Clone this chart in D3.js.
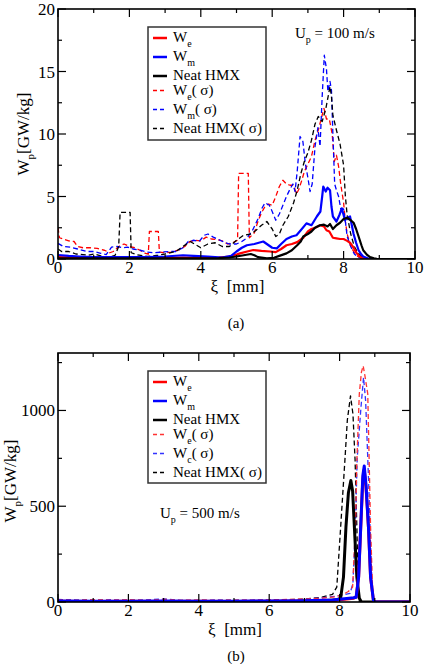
<!DOCTYPE html>
<html>
<head>
<meta charset="utf-8">
<script src="https://cdn.jsdelivr.net/npm/d3@7"></script>
<style>
  body { margin: 0; background: #fff; }
</style>
</head>
<body>
<div id="chart"></div>
<script>
// panel (a): U_p = 100 m/s, points are [xi (mm), W_p (GW/kg)]
const weA = [[0,0.15],[0.5,0.12],[1,0.1],[1.5,0.1],[2,0.12],[2.5,0.1],[3,0.1],[3.5,0.12],[4,0.1],[4.5,0.12],[4.8,0.2],[5.0,0.35],[5.1,0.45],[5.3,0.6],[5.47,0.72],[5.7,0.65],[5.94,0.6],[6.1,0.55],[6.25,0.8],[6.4,1.1],[6.55,1.2],[6.7,1.35],[6.87,1.7],[7.0,2.2],[7.1,2.4],[7.2,2.5],[7.34,2.7],[7.45,2.6],[7.52,2.3],[7.6,2.2],[7.7,1.7],[7.8,1.65],[7.9,1.6],[8.0,1.6],[8.1,1.45],[8.18,1.3],[8.28,0.9],[8.37,0.45],[8.45,0.2],[8.55,0.05],[8.7,0],[10,0]];
const wmA = [[0,0.32],[0.3,0.25],[0.6,0.2],[1,0.15],[1.5,0.15],[2,0.15],[2.5,0.15],[3,0.2],[3.5,0.3],[3.8,0.25],[4.2,0.2],[4.6,0.12],[4.85,0.25],[5.0,0.6],[5.15,0.9],[5.29,1.1],[5.5,1.2],[5.75,1.4],[5.9,1.1],[6.0,0.9],[6.13,0.85],[6.25,1.2],[6.4,1.6],[6.55,1.8],[6.68,1.9],[6.8,2.3],[6.96,2.85],[7.1,2.7],[7.25,3.4],[7.35,3.8],[7.4,5.0],[7.43,5.8],[7.5,5.4],[7.55,5.7],[7.62,5.5],[7.66,4.2],[7.7,3.4],[7.8,3.0],[7.88,3.5],[7.95,4.05],[8.04,3.1],[8.1,3.3],[8.18,3.4],[8.28,2.0],[8.35,1.3],[8.42,0.7],[8.5,0.35],[8.55,0.2],[8.7,0.02],[10,0]];
const hmxA = [[0,0.05],[1,0.05],[2,0.05],[3,0.05],[4,0.05],[4.5,0.08],[4.8,0.12],[5.0,0.2],[5.2,0.3],[5.4,0.4],[5.5,0.3],[5.6,0.15],[5.85,0.05],[6.05,0.1],[6.2,0.25],[6.4,0.45],[6.55,0.7],[6.7,1.1],[6.8,1.4],[6.87,1.8],[7.0,2.0],[7.1,2.2],[7.2,2.5],[7.34,2.7],[7.45,2.75],[7.55,2.6],[7.62,2.8],[7.7,2.4],[7.8,2.7],[7.9,2.9],[8.0,3.2],[8.1,3.3],[8.2,3.1],[8.28,2.9],[8.35,2.4],[8.42,1.8],[8.5,1.1],[8.55,0.7],[8.65,0.35],[8.74,0.15],[8.85,0.05],[8.93,0.02],[10,0]];
const weSigA = [[0,2.5],[0.04,1.7],[0.15,1.6],[0.3,1.45],[0.45,1.4],[0.55,1.0],[0.7,0.9],[0.9,0.9],[1.1,0.85],[1.3,0.7],[1.45,0.5],[1.55,0.6],[1.7,1.0],[1.85,1.2],[2.0,1.0],[2.15,0.9],[2.3,0.7],[2.45,0.45],[2.53,0.4],[2.56,2.2],[2.81,2.2],[2.84,0.55],[3.0,0.5],[3.2,0.55],[3.4,0.75],[3.55,1.0],[3.7,1.4],[3.85,1.5],[4.0,1.45],[4.15,1.75],[4.3,1.6],[4.45,1.55],[4.6,1.45],[4.75,1.2],[4.9,1.3],[5.03,1.5],[5.06,6.85],[5.33,6.85],[5.36,1.7],[5.5,2.1],[5.6,3.0],[5.7,3.7],[5.8,4.2],[5.9,4.4],[6.0,4.3],[6.1,5.0],[6.2,5.8],[6.3,6.3],[6.4,6.0],[6.5,5.9],[6.6,5.9],[6.68,5.2],[6.75,5.6],[6.83,6.3],[6.9,7.0],[7.0,7.6],[7.1,8.2],[7.2,9.5],[7.3,10.4],[7.38,11.3],[7.45,12.05],[7.52,11.2],[7.6,11.2],[7.68,10.0],[7.74,7.8],[7.8,8.3],[7.86,7.4],[7.92,6.0],[8.0,4.5],[8.05,3.0],[8.1,2.0],[8.2,1.0],[8.3,0.5],[8.4,0.2],[8.5,0.05],[8.7,0],[10,0]];
const wmSigA = [[0,1.25],[0.15,1.0],[0.35,0.95],[0.55,0.8],[0.8,0.6],[1.0,0.6],[1.2,0.45],[1.35,0.35],[1.5,0.95],[1.65,1.0],[1.8,0.9],[1.95,0.95],[2.1,0.8],[2.3,0.7],[2.5,0.55],[2.7,0.5],[2.9,0.55],[3.1,0.6],[3.3,0.6],[3.5,0.9],[3.65,1.4],[3.8,1.5],[3.95,1.4],[4.1,1.9],[4.2,2.0],[4.35,1.75],[4.5,1.55],[4.65,1.35],[4.8,1.2],[5.0,1.2],[5.15,1.4],[5.3,1.7],[5.45,2.3],[5.6,3.2],[5.72,4.1],[5.8,4.5],[5.92,4.3],[6.0,3.8],[6.1,3.1],[6.2,3.6],[6.3,4.3],[6.4,5.0],[6.5,5.6],[6.58,6.0],[6.64,5.4],[6.7,7.0],[6.78,9.8],[6.86,9.4],[6.93,7.6],[7.0,6.5],[7.06,5.4],[7.12,6.0],[7.2,9.0],[7.28,10.5],[7.34,9.0],[7.4,13.0],[7.46,16.3],[7.52,15.2],[7.56,13.4],[7.62,14.2],[7.66,13.5],[7.7,10.0],[7.75,6.0],[7.8,5.5],[7.86,5.0],[7.92,4.0],[8.0,4.0],[8.05,3.0],[8.1,1.8],[8.2,1.0],[8.3,0.4],[8.4,0.15],[8.5,0.05],[8.7,0],[10,0]];
const hmxSigA = [[0,0.8],[0.1,0.6],[0.3,0.6],[0.5,0.4],[0.7,0.35],[0.85,0.3],[1.0,0.4],[1.2,0.25],[1.4,0.1],[1.6,0.3],[1.7,1.0],[1.74,3.73],[2.02,3.73],[2.05,0.5],[2.2,0.35],[2.5,0.2],[2.8,0.3],[3.0,0.4],[3.3,0.6],[3.5,1.0],[3.7,1.4],[3.85,1.15],[4.0,0.9],[4.2,1.2],[4.4,1.3],[4.6,1.0],[4.8,1.0],[5.0,1.5],[5.2,1.9],[5.4,2.0],[5.55,2.3],[5.7,2.7],[5.85,3.0],[6.0,2.4],[6.1,1.8],[6.2,2.0],[6.3,2.7],[6.45,3.4],[6.6,4.5],[6.7,5.5],[6.8,6.8],[6.9,7.8],[7.0,8.5],[7.1,9.5],[7.2,10.8],[7.29,11.4],[7.4,11.0],[7.5,12.0],[7.62,13.8],[7.66,13.0],[7.7,11.5],[7.8,10.3],[7.9,9.2],[8.0,7.5],[8.05,5.0],[8.1,3.5],[8.2,2.0],[8.3,1.0],[8.4,0.5],[8.5,0.2],[8.7,0],[10,0]];

// panel (b): U_p = 500 m/s
const weB = [[0,4],[1,3],[2,4],[3,3],[4,4],[5,3],[6,4],[7,5],[7.8,8],[8.2,15],[8.4,20],[8.47,25],[8.54,130],[8.6,391],[8.66,640],[8.7,690],[8.75,600],[8.82,391],[8.88,130],[8.96,10],[9.0,0],[10,0]];
const wmB = [[0,5],[1,4],[2,4],[3,5],[4,4],[5,4],[6,5],[7,6],[7.8,10],[8.2,18],[8.4,22],[8.47,25],[8.54,130],[8.6,391],[8.66,660],[8.7,710],[8.75,610],[8.82,391],[8.88,130],[8.96,10],[9.0,0],[10,0]];
const hmxB = [[0,3],[1,3],[2,3],[3,3],[4,3],[5,3],[6,3],[7,4],[7.9,10],[8.03,20],[8.11,130],[8.18,391],[8.25,570],[8.32,634],[8.37,580],[8.42,391],[8.49,130],[8.56,20],[8.62,0],[10,0]];
const weSigB = [[0,10],[0.5,8],[1,12],[1.5,9],[2,11],[2.5,8],[3,14],[3.5,9],[4,10],[4.5,8],[5,10],[5.5,9],[6,11],[6.5,13],[7,15],[7.5,20],[7.9,28],[8.1,40],[8.25,55],[8.37,78],[8.45,391],[8.49,738],[8.56,1087],[8.62,1200],[8.67,1233],[8.72,1180],[8.8,1087],[8.84,738],[8.88,391],[8.94,50],[8.98,0],[10,0]];
const wmSigB = [[0,14],[0.5,10],[1,8],[1.5,12],[2,9],[2.5,11],[3,16],[3.5,9],[4,8],[4.5,11],[5,9],[5.5,10],[6,12],[6.5,10],[7,14],[7.5,22],[7.9,30],[8.1,38],[8.3,45],[8.38,100],[8.45,400],[8.5,750],[8.54,850],[8.6,1000],[8.68,1172],[8.74,1050],[8.78,850],[8.83,600],[8.88,300],[8.93,50],[8.97,0],[10,0]];
const hmxSigB = [[0,12],[0.5,8],[1,10],[1.5,6],[2,9],[2.5,7],[3,10],[3.5,6],[4,8],[4.5,7],[5,9],[5.5,6],[6,10],[6.5,12],[7,15],[7.5,25],[7.8,40],[7.92,78],[8.03,391],[8.15,738],[8.22,950],[8.31,1076],[8.38,980],[8.44,740],[8.49,390],[8.53,80],[8.56,0],[10,0]];

const xTicks = [0, 2, 4, 6, 8, 10];
const xMinor = [1, 3, 5, 7, 9];
const yTicksA = [0, 5, 10, 15, 20];
const yMinorA = [2.5, 7.5, 12.5, 17.5];
const yTicksB = [0, 500, 1000];
const yMinorB = [250, 750, 1250];

const legendA = [
  { main: 'W', sub: 'e', tail: '', color: '#ff0000', dash: false },
  { main: 'W', sub: 'm', tail: '', color: '#0000ff', dash: false },
  { main: 'Neat HMX', sub: '', tail: '', color: '#000', dash: false },
  { main: 'W', sub: 'e', tail: '( σ)', color: '#ff0000', dash: true },
  { main: 'W', sub: 'm', tail: '( σ)', color: '#0000ff', dash: true },
  { main: 'Neat HMX( σ)', sub: '', tail: '', color: '#000', dash: true }
];
const legendB = [
  { main: 'W', sub: 'e', tail: '', color: '#ff0000', dash: false },
  { main: 'W', sub: 'm', tail: '', color: '#0000ff', dash: false },
  { main: 'Neat HMX', sub: '', tail: '', color: '#000', dash: false },
  { main: 'W', sub: 'e', tail: '( σ)', color: '#ff3333', dash: true },
  { main: 'W', sub: 'c', tail: '( σ)', color: '#3333ff', dash: true },
  { main: 'Neat HMX( σ)', sub: '', tail: '', color: '#000', dash: true }
];

const FONT = '"Liberation Serif", "DejaVu Serif", "Times New Roman", serif';

const svg = d3.select('#chart').append('svg')
  .attr('width', 426)
  .attr('height', 664)
  .attr('font-family', FONT)
  .style('display', 'block');

function drawPanel(cfg) {
  const x = d3.scaleLinear().domain([0, 10]).range([cfg.left, cfg.right]);
  const y = d3.scaleLinear().domain([0, cfg.ymax]).range([cfg.bottom, cfg.top]);
  const g = svg.append('g');

  const clipId = 'clip-' + cfg.id;
  g.append('clipPath').attr('id', clipId)
    .append('rect')
    .attr('x', cfg.left).attr('y', cfg.top)
    .attr('width', cfg.right - cfg.left).attr('height', cfg.bottom - cfg.top);

  const line = d3.line().x(d => x(d[0])).y(d => y(d[1]));
  const plot = g.append('g').attr('clip-path', `url(#${clipId})`);

  // dashed first, solid on top
  cfg.series.forEach(s => {
    plot.append('path')
      .datum(s.data)
      .attr('d', line)
      .attr('fill', 'none')
      .attr('stroke', s.color)
      .attr('stroke-width', s.dash ? 1.3 : cfg.solidWidth)
      .attr('stroke-dasharray', s.dash ? '5,3' : null)
      .attr('stroke-linejoin', 'round');
  });

  // ticks, pointing inward on all four sides
  const tk = g.append('g').attr('stroke', '#000').attr('stroke-width', 1.2);
  const xt = [...xTicks.map(v => [v, 8]), ...xMinor.map(v => [v, 4])];
  xt.forEach(([v, len]) => {
    tk.append('line').attr('x1', x(v)).attr('x2', x(v)).attr('y1', cfg.bottom).attr('y2', cfg.bottom - len);
    tk.append('line').attr('x1', x(v)).attr('x2', x(v)).attr('y1', cfg.top).attr('y2', cfg.top + len);
  });
  const yt = [...cfg.yTicks.map(v => [v, 8]), ...cfg.yMinor.map(v => [v, 4])];
  yt.forEach(([v, len]) => {
    tk.append('line').attr('y1', y(v)).attr('y2', y(v)).attr('x1', cfg.left).attr('x2', cfg.left + len);
    tk.append('line').attr('y1', y(v)).attr('y2', y(v)).attr('x1', cfg.right).attr('x2', cfg.right - len);
  });

  g.append('rect')
    .attr('x', cfg.left).attr('y', cfg.top)
    .attr('width', cfg.right - cfg.left).attr('height', cfg.bottom - cfg.top)
    .attr('fill', 'none').attr('stroke', '#000').attr('stroke-width', 1.6);

  // tick labels
  g.selectAll('.xl').data(xTicks).join('text')
    .attr('x', d => x(d)).attr('y', cfg.bottom + 14)
    .attr('text-anchor', 'middle').attr('font-size', 17)
    .text(d => d);
  g.selectAll('.yl').data(cfg.yTicks).join('text')
    .attr('x', cfg.left - 3).attr('y', d => y(d) + 6)
    .attr('text-anchor', 'end').attr('font-size', 17)
    .text(d => d);

  // axis titles
  g.append('text')
    .attr('x', (cfg.left + cfg.right) / 2 + 1).attr('y', cfg.bottom + 33)
    .attr('text-anchor', 'middle').attr('font-size', 17)
    .attr('xml:space', 'preserve')
    .text('ξ  [mm]');
  const yl = g.append('text')
    .attr('transform', `translate(${cfg.ylabX},${cfg.ylabY}) rotate(-90)`)
    .attr('text-anchor', 'middle').attr('font-size', 17);
  yl.append('tspan').text('W');
  yl.append('tspan').attr('font-size', 11).attr('dy', 5).text('p');
  yl.append('tspan').attr('dy', -5).text('[GW/kg]');

  // legend
  const lg = g.append('g');
  lg.append('rect')
    .attr('x', cfg.legX).attr('y', cfg.legY)
    .attr('width', 118).attr('height', cfg.legH)
    .attr('fill', '#fff').attr('stroke', '#333').attr('stroke-width', 1.5);
  let base = cfg.legY + 15;
  cfg.legend.forEach(e => {
    lg.append('line')
      .attr('x1', cfg.legX + 5).attr('x2', cfg.legX + 19)
      .attr('y1', base - 4).attr('y2', base - 4)
      .attr('stroke', e.color)
      .attr('stroke-width', e.dash ? 1.3 : 2.5)
      .attr('stroke-dasharray', e.dash ? '4,3' : null);
    const t = lg.append('text')
      .attr('x', cfg.legX + 25).attr('y', base)
      .attr('font-size', 15);
    t.append('tspan').text(e.main);
    if (e.sub) {
      t.append('tspan').attr('font-size', 10).attr('dy', 5).text(e.sub);
      if (e.tail) t.append('tspan').attr('dy', -5).text(e.tail);
    }
    base += e.sub ? 19 : 14.5;
  });

  // velocity note
  const up = g.append('text')
    .attr('x', cfg.upX).attr('y', cfg.upY).attr('font-size', 15);
  up.append('tspan').text('U');
  up.append('tspan').attr('font-size', 10).attr('dy', 5).text('p');
  up.append('tspan').attr('dy', -5).text(cfg.upText);

  g.append('text')
    .attr('x', 236).attr('y', cfg.capY)
    .attr('text-anchor', 'middle').attr('font-size', 15)
    .text(cfg.caption);
}

drawPanel({
  id: 'a', left: 58, right: 415, top: 9, bottom: 259, ymax: 20,
  yTicks: yTicksA, yMinor: yMinorA, solidWidth: 2.2,
  series: [
    { data: weSigA, color: '#ff0000', dash: true },
    { data: wmSigA, color: '#0000ff', dash: true },
    { data: hmxSigA, color: '#000', dash: true },
    { data: weA, color: '#ff0000', dash: false },
    { data: wmA, color: '#0000ff', dash: false },
    { data: hmxA, color: '#000', dash: false }
  ],
  ylabX: 29, ylabY: 134,
  legend: legendA, legX: 148, legY: 27, legH: 113,
  upX: 295, upY: 38, upText: ' = 100 m/s',
  capY: 328, caption: '(a)'
});

drawPanel({
  id: 'b', left: 58, right: 410, top: 353, bottom: 602, ymax: 1300,
  yTicks: yTicksB, yMinor: yMinorB, solidWidth: 3,
  series: [
    { data: hmxSigB, color: '#000', dash: true },
    { data: wmSigB, color: '#3333ff', dash: true },
    { data: weSigB, color: '#ff3333', dash: true },
    { data: hmxB, color: '#000', dash: false },
    { data: weB, color: '#ff0000', dash: false },
    { data: wmB, color: '#0000ff', dash: false }
  ],
  ylabX: 16, ylabY: 481,
  legend: legendB, legX: 148, legY: 371, legH: 112,
  upX: 160, upY: 518, upText: ' = 500 m/s',
  capY: 661, caption: '(b)'
});
</script>
</body>
</html>
